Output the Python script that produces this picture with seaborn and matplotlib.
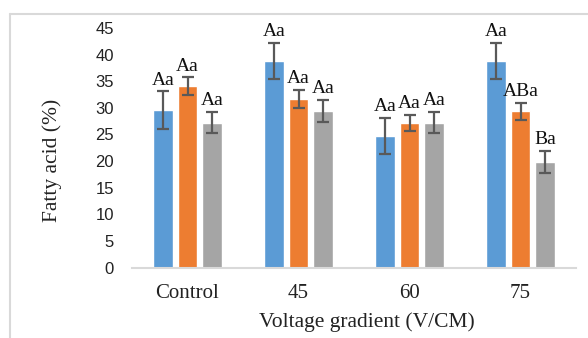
import matplotlib
matplotlib.use("Agg")
import matplotlib.pyplot as plt
import seaborn as sns
import pandas as pd
import numpy as np
from matplotlib.lines import Line2D

categories = ["Control", "45", "60", "75"]
series = ["S1", "S2", "S3"]
values_s1 = [29.6, 38.8, 24.7, 38.8]
values_s2 = [34.1, 31.7, 27.2, 29.4]
values_s3 = [27.2, 29.4, 27.2, 19.8]
errors_s1 = [3.5, 3.4, 3.4, 3.4]
errors_s2 = [1.6, 1.7, 1.5, 1.6]
errors_s3 = [2.0, 2.1, 2.0, 2.1]
labels_s1 = ["Aa", "Aa", "Aa", "Aa"]
labels_s2 = ["Aa", "Aa", "Aa", "ABa"]
labels_s3 = ["Aa", "Aa", "Aa", "Ba"]
yticks = [0, 5, 10, 15, 20, 25, 30, 35, 40, 45]
colors = ["#5B9BD5", "#ED7D31", "#A5A5A5"]

vals = [values_s1, values_s2, values_s3]
errs = [errors_s1, errors_s2, errors_s3]
labs = [labels_s1, labels_s2, labels_s3]

rows = []
for si, s in enumerate(series):
    for ci, c in enumerate(categories):
        rows.append({"cat": c, "series": s, "value": vals[si][ci]})
df = pd.DataFrame(rows)

sns.set_theme(style="white")
serif = ["Liberation Serif", "DejaVu Serif"]
sans = ["Liberation Sans", "DejaVu Sans"]
plt.rcParams["font.family"] = serif

fig = plt.figure(figsize=(5.88, 3.38), dpi=100)
ax = fig.add_axes([132 / 588, 1 - 267.5 / 338, 444 / 588, (267.5 - 28) / 338])

sns.barplot(data=df, x="cat", y="value", hue="series", order=categories,
            hue_order=series, palette=colors, width=0.66, gap=0.2,
            saturation=1, errorbar=None, legend=False, ax=ax)

step = 0.66 / 3
for p in ax.patches:
    cx = p.get_x() + p.get_width() / 2
    ci = int(round(cx))
    si = int(round((cx - ci) / step)) + 1
    h = p.get_height()
    e = errs[si][ci]
    ax.errorbar(cx, h, yerr=e, fmt="none", ecolor="#595959",
                elinewidth=1.6, capsize=4, capthick=1.6, zorder=5)
    ax.annotate(labs[si][ci], (cx, h + e), xytext=(0, 2),
                textcoords="offset points", ha="center", va="bottom",
                fontsize=14, color="#111111", family=serif,
                annotation_clip=False, zorder=6)

ax.set_xlim(-0.5, 3.5)
ax.set_ylim(0, 45)
ax.set_yticks(yticks)
ax.set_yticklabels([str(t) for t in yticks], family=sans, fontsize=12,
                   color="#222222")
ax.tick_params(axis="y", length=0, pad=13)
ax.tick_params(axis="x", length=0, pad=12, labelsize=15, labelcolor="#222222")
for lab in ax.get_xticklabels():
    lab.set_family(serif)

for s in ["top", "right", "left"]:
    ax.spines[s].set_visible(False)
ax.spines["bottom"].set_color("#d9d9d9")
ax.spines["bottom"].set_linewidth(1.5)
ax.grid(False)

ax.set_xlabel("Voltage gradient (V/CM)", fontsize=15.5, color="#222222",
              family=serif)
ax.xaxis.set_label_coords(0.529, -0.185)
ax.set_ylabel("Fatty acid (%)", fontsize=15.5, color="#222222", family=serif)
ax.yaxis.set_label_coords(-0.158, 0.449)

fig.add_artist(Line2D([10 / 588, 1], [1 - 14 / 338, 1 - 14 / 338],
                      transform=fig.transFigure, color="#d9d9d9", lw=1.5))
fig.add_artist(Line2D([10 / 588, 10 / 588], [0, 1 - 14 / 338],
                      transform=fig.transFigure, color="#d9d9d9", lw=1.5))

fig.savefig("out.png", dpi=100)
